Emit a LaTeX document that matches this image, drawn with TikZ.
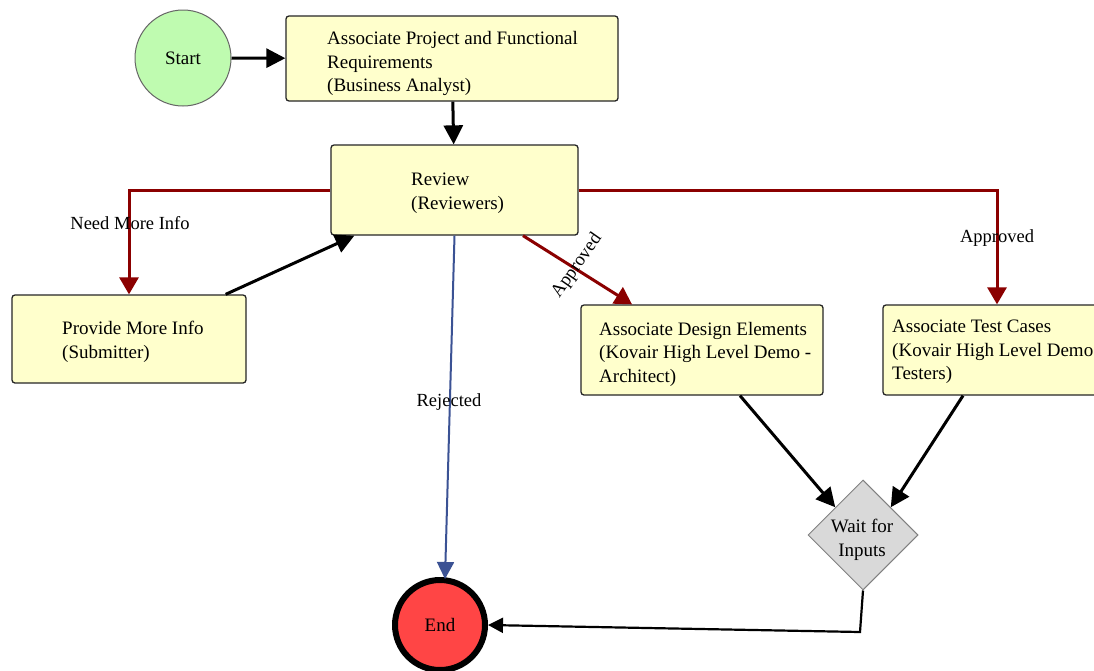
\documentclass[tikz,border=0pt]{standalone}
\usepackage{fontspec}
\setmainfont{Liberation Serif}
\usetikzlibrary{arrows.meta,shapes.geometric}
\definecolor{boxfill}{HTML}{FFFFCC}
\definecolor{startfill}{HTML}{BFFBB0}
\definecolor{endfill}{HTML}{FF4545}
\definecolor{diafill}{HTML}{D9D9D9}
\definecolor{redline}{HTML}{8B0000}
\definecolor{blueline}{HTML}{3B5294}
\tikzset{
  stepbox/.style={draw=black!85, line width=1.3pt, fill=boxfill, rounded corners=3pt, inner sep=0pt},
  txt/.style={font=\fontsize{19}{23.5}\selectfont, align=left, inner sep=0pt, anchor=west},
  lbl/.style={font=\fontsize{18.5}{22}\selectfont, inner sep=0pt},
  blk/.style={line width=3pt, -{Triangle[length=19pt,width=19pt]}},
  redarr/.style={draw=redline, line width=3pt, -{Triangle[length=17pt,width=19pt]}},
  bluearr/.style={draw=blueline, line width=2pt, -{Triangle[length=17pt,width=17pt]}},
}
\begin{document}
\begin{tikzpicture}[x=1pt,y=-1pt]
\useasboundingbox[fill=white] (0,0) rectangle (1094,670);
% nodes
\node[circle, draw=black!60, line width=1pt, fill=startfill, minimum size=96pt, inner sep=0pt, font=\fontsize{19}{22}\selectfont] (start) at (183,58) {Start};
\node[stepbox, minimum width=332pt, minimum height=85pt] (apf) at (452,58.5) {};
\node[txt] (apft) at (327,63.5) {Associate Project and Functional\\Requirements\\(Business Analyst)};
\node[stepbox, minimum width=247pt, minimum height=90pt] (rev) at (454.5,190) {};
\node[txt] (revt) at (411,193) {Review\\(Reviewers)};
\node[stepbox, minimum width=234pt, minimum height=88pt] (prov) at (129,339) {};
\node[txt] (provt) at (62,342) {Provide More Info\\(Submitter)};
\node[stepbox, minimum width=242pt, minimum height=90pt] (des) at (702,350) {};
\node[txt] (dest) at (599,354) {Associate Design Elements\\(Kovair High Level Demo -\\Architect)};
\node[stepbox, minimum width=228pt, minimum height=90pt] (test) at (997,350) {};
\node[txt] (testt) at (892,352) {Associate Test Cases\\(Kovair High Level Demo -\\Testers)};
\node[diamond, draw=black!50, line width=1pt, fill=diafill, minimum width=110pt, minimum height=110pt, inner sep=0pt] (dia) at (863,535) {};
\node[font=\fontsize{19}{23.5}\selectfont, align=center, inner sep=0pt] (diat) at (862,540) {Wait for\\Inputs};
\node[circle, draw=black, line width=6pt, fill=endfill, minimum size=90pt, inner sep=0pt, font=\fontsize{19}{22}\selectfont] (end) at (440,625) {End};
% connectors
\draw[blk] (start) -- (apf);
\draw[blk] (apf) -- (rev);
\draw[redarr] (rev.west) -| (prov.north);
\node[lbl] (l1) at (130,223) {Need More Info};
\draw[redarr] (rev.east) -| (test.north);
\node[lbl] (l2) at (997,238) {Approved};
\draw[redarr] ([xshift=68.5pt]rev.south) -- ([xshift=-70pt]des.north);
\node[lbl, rotate=55] (l3) at (577,266) {Approved};
\draw[blk] ([xshift=-21pt]prov.north east) -- ([xshift=24pt]rev.south west);
\draw[bluearr] (rev.south) -- ([xshift=5pt,yshift=-2pt]end.north);
\node[lbl] (l4) at (449,402) {Rejected};
\draw[blk] ([xshift=38pt]des.south) -- (dia.north west);
\draw[blk] ([xshift=-34pt]test.south) -- (dia.north east);
\coordinate (bend) at (860,632);
\draw[line width=2.2pt, -{Triangle[length=15pt,width=15pt]}] (dia.south) -- (bend) -- (end.east);
\end{tikzpicture}
\end{document}
